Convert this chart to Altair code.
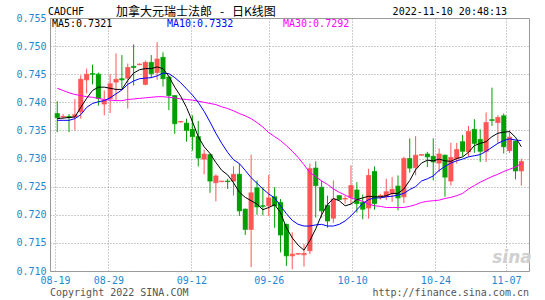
import altair as alt
import pandas as pd

# ---------------- data ----------------
opens = [0.7380, 0.7374, 0.7375, 0.7374, 0.7383, 0.7440, 0.7451, 0.7450, 0.7397, 0.7407,
         0.7436, 0.7442, 0.7443, 0.7464, 0.7467, 0.7432, 0.7471, 0.7453, 0.7480, 0.7445,
         0.7412, 0.7365, 0.7363, 0.7352, 0.7339, 0.7299, 0.7307, 0.7257, 0.7259, 0.7260,
         0.7260, 0.7272, 0.7210, 0.7174, 0.7248, 0.7216, 0.7216, 0.7232, 0.7222, 0.7183,
         0.7127, 0.7130, 0.7129, 0.7136, 0.7283, 0.7249, 0.7217, 0.7194, 0.7234, 0.7228,
         0.7231, 0.7244, 0.7222, 0.7212, 0.7277, 0.7233, 0.7232, 0.7238, 0.7251, 0.7232,
         0.7300, 0.7284, 0.7306, 0.7308, 0.7304, 0.7292, 0.7306, 0.7260, 0.7300, 0.7330,
         0.7312, 0.7352, 0.7334, 0.7313, 0.7369, 0.7364, 0.7376, 0.7314, 0.7331, 0.7278]
highs = [0.7402, 0.7379, 0.7379, 0.7406, 0.7448, 0.7460, 0.7467, 0.7453, 0.7421, 0.7450,
         0.7487, 0.7484, 0.7469, 0.7503, 0.7469, 0.7474, 0.7484, 0.7507, 0.7489, 0.7447,
         0.7413, 0.7367, 0.7371, 0.7377, 0.7367, 0.7316, 0.7309, 0.7272, 0.7260, 0.7264,
         0.7286, 0.7291, 0.7211, 0.7307, 0.7261, 0.7249, 0.7271, 0.7249, 0.7228, 0.7184,
         0.7169, 0.7132, 0.7148, 0.7291, 0.7295, 0.7261, 0.7234, 0.7261, 0.7235, 0.7234,
         0.7288, 0.7258, 0.7236, 0.7282, 0.7286, 0.7237, 0.7264, 0.7267, 0.7270, 0.7303,
         0.7336, 0.7340, 0.7307, 0.7312, 0.7336, 0.7318, 0.7307, 0.7328, 0.7328, 0.7342,
         0.7358, 0.7370, 0.7352, 0.7382, 0.7426, 0.7377, 0.7380, 0.7351, 0.7332, 0.7300]
lows = [0.7347, 0.7371, 0.7347, 0.7350, 0.7371, 0.7416, 0.7432, 0.7394, 0.7377, 0.7381,
        0.7404, 0.7425, 0.7389, 0.7430, 0.7466, 0.7430, 0.7443, 0.7440, 0.7428, 0.7386,
        0.7344, 0.7364, 0.7330, 0.7314, 0.7286, 0.7272, 0.7239, 0.7224, 0.7258, 0.7246,
        0.7234, 0.7198, 0.7164, 0.7107, 0.7200, 0.7199, 0.7198, 0.7177, 0.7133, 0.7109,
        0.7103, 0.7129, 0.7108, 0.7130, 0.7195, 0.7195, 0.7177, 0.7186, 0.7226, 0.7220,
        0.7219, 0.7204, 0.7192, 0.7193, 0.7209, 0.7227, 0.7226, 0.7223, 0.7208, 0.7221,
        0.7275, 0.7270, 0.7305, 0.7285, 0.7261, 0.7276, 0.7232, 0.7252, 0.7291, 0.7304,
        0.7303, 0.7310, 0.7294, 0.7294, 0.7358, 0.7327, 0.7309, 0.7310, 0.7263, 0.7252]
closes = [0.7373, 0.7375, 0.7373, 0.7378, 0.7441, 0.7450, 0.7450, 0.7407, 0.7404, 0.7433,
          0.7441, 0.7440, 0.7462, 0.7462, 0.7468, 0.7471, 0.7451, 0.7477, 0.7442, 0.7412,
          0.7362, 0.7366, 0.7350, 0.7339, 0.7301, 0.7308, 0.7260, 0.7269, 0.7260, 0.7259,
          0.7272, 0.7207, 0.7174, 0.7239, 0.7214, 0.7215, 0.7230, 0.7216, 0.7164, 0.7127,
          0.7130, 0.7131, 0.7131, 0.7282, 0.7252, 0.7207, 0.7189, 0.7228, 0.7227, 0.7229,
          0.7252, 0.7220, 0.7210, 0.7270, 0.7220, 0.7234, 0.7241, 0.7245, 0.7230, 0.7300,
          0.7283, 0.7306, 0.7307, 0.7303, 0.7294, 0.7308, 0.7267, 0.7302, 0.7316, 0.7313,
          0.7348, 0.7327, 0.7313, 0.7364, 0.7368, 0.7373, 0.7321, 0.7338, 0.7278, 0.7295]
ma5 = [0.7371, 0.7372, 0.7373, 0.7374, 0.7391, 0.7407, 0.7421, 0.7427, 0.7427, 0.7425,
       0.7423, 0.7423, 0.7439, 0.7452, 0.7458, 0.7460, 0.7460, 0.7463, 0.7460, 0.7446,
       0.7427, 0.7411, 0.7391, 0.7366, 0.7339, 0.7321, 0.7309, 0.7293, 0.7279, 0.7271,
       0.7257, 0.7240, 0.7231, 0.7225, 0.7219, 0.7209, 0.7213, 0.7218, 0.7204, 0.7177,
       0.7159, 0.7146, 0.7137, 0.7154, 0.7175, 0.7200, 0.7218, 0.7229, 0.7225, 0.7216,
       0.7219, 0.7227, 0.7230, 0.7233, 0.7232, 0.7232, 0.7234, 0.7238, 0.7238, 0.7246,
       0.7261, 0.7280, 0.7292, 0.7297, 0.7296, 0.7299, 0.7296, 0.7295, 0.7300, 0.7303,
       0.7311, 0.7323, 0.7327, 0.7330, 0.7339, 0.7345, 0.7347, 0.7348, 0.7338, 0.7321]
ma10 = [0.7368, 0.7368, 0.7368, 0.7371, 0.7378, 0.7391, 0.7398, 0.7401, 0.7403, 0.7408,
        0.7415, 0.7422, 0.7432, 0.7438, 0.7442, 0.7443, 0.7444, 0.7447, 0.7452, 0.7451,
        0.7444, 0.7435, 0.7424, 0.7413, 0.7400, 0.7384, 0.7365, 0.7345, 0.7327, 0.7311,
        0.7298, 0.7291, 0.7279, 0.7266, 0.7256, 0.7246, 0.7237, 0.7230, 0.7216, 0.7202,
        0.7190, 0.7183, 0.7180, 0.7180, 0.7182, 0.7183, 0.7180, 0.7180, 0.7183, 0.7189,
        0.7198, 0.7209, 0.7220, 0.7227, 0.7230, 0.7230, 0.7232, 0.7233, 0.7235, 0.7238,
        0.7245, 0.7250, 0.7260, 0.7264, 0.7269, 0.7279, 0.7286, 0.7292, 0.7296, 0.7299,
        0.7303, 0.7305, 0.7307, 0.7313, 0.7320, 0.7327, 0.7332, 0.7335, 0.7333, 0.7332]
ma30 = [0.7425, 0.7421, 0.7417, 0.7414, 0.7412, 0.7410, 0.7409, 0.7407, 0.7405, 0.7404,
        0.7403, 0.7403, 0.7405, 0.7406, 0.7407, 0.7408, 0.7409, 0.7410, 0.7410, 0.7409,
        0.7408, 0.7406, 0.7405, 0.7404, 0.7402, 0.7400, 0.7398, 0.7396, 0.7392, 0.7389,
        0.7385, 0.7380, 0.7376, 0.7371, 0.7364, 0.7356, 0.7346, 0.7339, 0.7332, 0.7323,
        0.7313, 0.7302, 0.7289, 0.7275, 0.7268, 0.7260, 0.7254, 0.7246, 0.7240, 0.7235,
        0.7230, 0.7227, 0.7224, 0.7219, 0.7216, 0.7215, 0.7213, 0.7213, 0.7213, 0.7213,
        0.7215, 0.7218, 0.7222, 0.7224, 0.7225, 0.7226, 0.7229, 0.7231, 0.7234, 0.7238,
        0.7246, 0.7252, 0.7258, 0.7263, 0.7268, 0.7272, 0.7277, 0.7281, 0.7285, 0.7291]

date_pos = [-0.38, 8.7, 22.83, 36.0, 50.2, 64.37, 76.4]
date_labels = ["08-19", "08-29", "09-12", "09-26", "10-10", "10-24", "11-07"]
y_ticks = [0.710, 0.715, 0.720, 0.725, 0.730, 0.735, 0.740, 0.745, 0.750, 0.755]

symbol = "CADCHF"
title_parts = ["加拿大元瑞士法郎", "-", "日K线图"]
stamp = "2022-11-10 20:48:13"
ma_texts = ["MA5:0.7321", "MA10:0.7332", "MA30:0.7292"]
footer_left = "Copyright 2022 SINA.COM"
footer_right = "http://finance.sina.com.cn"

# ---------------- styles ----------------
RED = "#FF5555"
GREEN = "#00A000"
LABEL = "#1E88D0"
GRID = "#9a9a9a"
MONO = "DejaVu Sans Mono"
CJK = "Noto Sans CJK SC"

df = pd.DataFrame({
    "idx": list(range(len(opens))),
    "open": opens, "high": highs, "low": lows, "close": closes,
    "ma5": ma5, "ma10": ma10, "ma30": ma30,
})
df["dir"] = ["up" if c >= o else "down" for o, c in zip(opens, closes)]

parts = []
for k in range(len(date_pos) - 1):
    mid = (date_pos[k] + date_pos[k + 1]) / 2
    parts.append(f"datum.value < {mid} ? '{date_labels[k]}' : ")
label_expr = "".join(parts) + f"'{date_labels[-1]}'"

xscale = alt.Scale(domain=[-0.385, 79.45], nice=False, zero=False)
yscale = alt.Scale(domain=[0.710, 0.755], nice=False, zero=False)
xaxis = alt.Axis(values=date_pos, labelExpr=label_expr, title=None, grid=True,
                 gridDash=[1, 2], gridColor=GRID, gridOpacity=1, domain=False, ticks=False,
                 labelColor=LABEL, labelFont=MONO, labelFontSize=10, labelPadding=4,
                 labelFlush=False, labelOverlap=False, labelBound=False)
yaxis = alt.Axis(values=y_ticks, format=".3f", title=None, grid=True,
                 gridDash=[1, 2], gridColor=GRID, gridOpacity=1, domain=False, ticks=False,
                 labelColor=LABEL, labelFont=MONO, labelFontSize=10, labelPadding=4,
                 labelOverlap=False, labelBound=False)

X = alt.X("idx:Q", scale=xscale, axis=xaxis)
def Y(f):
    return alt.Y(f"{f}:Q", scale=yscale, axis=yaxis)

color = alt.Color("dir:N", scale=alt.Scale(domain=["up", "down"], range=[RED, GREEN]), legend=None)

base = alt.Chart(df)
wicks = base.mark_rule(strokeWidth=1).encode(x=X, y=Y("low"), y2="high", color=color)
bodies = base.mark_bar(size=5).encode(x=X, y=Y("open"), y2="close", color=color)
caps = base.mark_tick(orient="horizontal", size=5, thickness=1).encode(x=X, y=Y("close"), color=color)
caps2 = base.mark_tick(orient="horizontal", size=5, thickness=1).encode(x=X, y=Y("open"), color=color)
l30 = base.mark_line(color="#FF00FF", strokeWidth=1).encode(x=X, y=Y("ma30"))
l10 = base.mark_line(color="#0000FF", strokeWidth=1).encode(x=X, y=Y("ma10"))
l5 = base.mark_line(color="#000000", strokeWidth=1).encode(x=X, y=Y("ma5"))

def txt(s, x, y, col="#000", font=MONO, size=10, align="left", **kw):
    return alt.Chart(pd.DataFrame({"t": [s]})).mark_text(
        align=align, baseline="middle", font=font, fontSize=size, color=col, **kw
    ).encode(x=alt.value(x), y=alt.value(y), text="t:N")

texts = [
    txt(symbol, -2, -6),
    txt(title_parts[0], 66, -6, font=CJK, size=12),
    txt(title_parts[1], 172, -6, font=CJK, size=12, align="center"),
    txt(title_parts[2], 182, -6, font=CJK, size=12),
    txt(stamp, 457, -6, align="right"),
    txt(ma_texts[0], 2, 6),
    txt(ma_texts[1], 117, 6, col="#0000FF"),
    txt(ma_texts[2], 233, 6, col="#FF00FF"),
    txt(footer_left, 0, 275, col="#555555"),
    txt(footer_right, 479, 275, col="#555555", align="right"),
    txt("sina", 462, 240, col="#d0d0d0", font="DejaVu Sans", size=17,
        fontStyle="italic", fontWeight="bold", align="center"),
]

chart = alt.layer(wicks, bodies, caps, caps2, l30, l10, l5, *texts).properties(
    width=479, height=253,
    padding={"left": 50, "top": 18, "right": 16, "bottom": 29},
    autosize=alt.AutoSizeParams(type="none"),
    background="white",
).configure_view(stroke="#999999", strokeWidth=1)

chart.save("out.html", embed_options={"renderer": "svg", "actions": False})
